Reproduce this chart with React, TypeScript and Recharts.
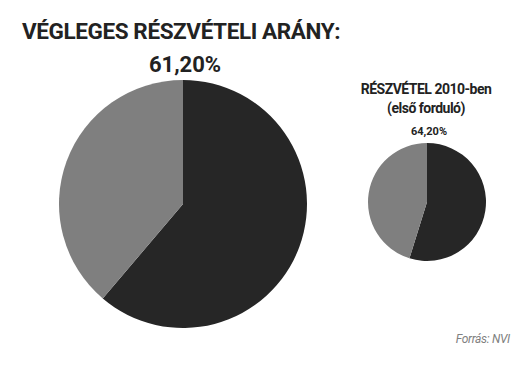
import { PieChart, Pie, Cell } from 'recharts';

// 2014 final turnout (big pie) and 2010 first-round turnout (small pie)
const turnoutLabels = ['Részvétel', 'Távolmaradás'];
const turnout2014 = [61.2, 38.8];
const turnout2010 = [54.8, 45.2];
const sliceColors = ['#262626', '#7f7f7f'];

const bigData = turnoutLabels.map((name, i) => ({ name, value: turnout2014[i] }));
const smallData = turnoutLabels.map((name, i) => ({ name, value: turnout2010[i] }));

const font = 'Roboto, "Noto Sans", sans-serif';

export default function App() {
  return (
    <div
      style={{
        position: 'absolute',
        left: 0,
        top: 0,
        width: 530,
        height: 365,
        background: '#fff',
        fontFamily: font,
        color: '#222',
      }}
    >
      <PieChart width={530} height={365} margin={{ top: 0, right: 0, bottom: 0, left: 0 }}>
        <Pie
          data={bigData}
          dataKey="value"
          cx={183}
          cy={204}
          outerRadius={124}
          startAngle={90}
          endAngle={-270}
          stroke="none"
          isAnimationActive={false}
        >
          {bigData.map((entry, index) => (
            <Cell key={`big-${index}`} fill={sliceColors[index]} />
          ))}
        </Pie>
        <Pie
          data={smallData}
          dataKey="value"
          cx={427}
          cy={202}
          outerRadius={59}
          startAngle={90}
          endAngle={-270}
          stroke="none"
          isAnimationActive={false}
        >
          {smallData.map((entry, index) => (
            <Cell key={`small-${index}`} fill={sliceColors[index]} />
          ))}
        </Pie>
      </PieChart>

      <div
        style={{
          position: 'absolute',
          left: 22,
          top: 17,
          fontSize: 22.5,
          fontWeight: 700,
          letterSpacing: -0.4,
          whiteSpace: 'nowrap',
          lineHeight: '28px',
        }}
      >
        VÉGLEGES RÉSZVÉTELI ARÁNY:
      </div>
      <div
        style={{
          position: 'absolute',
          left: 85,
          width: 200,
          top: 51,
          textAlign: 'center',
          fontSize: 22,
          fontWeight: 700,
          lineHeight: '28px',
        }}
      >
        61,20%
      </div>

      <div
        style={{
          position: 'absolute',
          left: 326,
          width: 200,
          top: 80,
          textAlign: 'center',
          fontSize: 14,
          fontWeight: 700,
          letterSpacing: -0.5,
          lineHeight: '18.7px',
        }}
      >
        RÉSZVÉTEL 2010-ben
        <br />
        (első forduló)
      </div>
      <div
        style={{
          position: 'absolute',
          left: 329,
          width: 200,
          top: 123.5,
          textAlign: 'center',
          fontSize: 11,
          fontWeight: 700,
          lineHeight: '16px',
        }}
      >
        64,20%
      </div>

      <div
        style={{
          position: 'absolute',
          right: 20,
          top: 332,
          fontSize: 12,
          fontStyle: 'italic',
          color: '#808080',
          letterSpacing: -0.3,
          lineHeight: '14px',
        }}
      >
        Forrás: NVI
      </div>
    </div>
  );
}
